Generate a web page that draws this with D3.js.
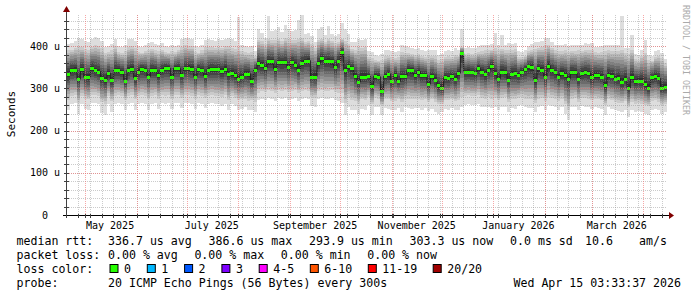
<!DOCTYPE html>
<html>
<head>
<meta charset="utf-8">
<script src="https://cdn.jsdelivr.net/npm/d3@7"></script>
<style>
html, body { margin: 0; padding: 0; background: #fff; }
svg { display: block; }
text { font-family: "DejaVu Sans Mono", monospace; fill: #000; white-space: pre; }
</style>
</head>
<body>
<svg id="chart" width="697" height="297"></svg>
<script>
// one column every 2 days, 360 days ending at the graph stamp
// values in microseconds
var rttMax = [
  405,408,412,420,418,412,410,416,421,420,412,398,400,405,418,400,398,402,416,418,413,400,398,402,408,410,406,404,408,400,398,402,400,404,416,420,419,418,400,398,404,415,416,414,412,
  417,415,418,420,416,412,470,402,400,398,400,388,440,432,420,472,436,438,446,434,451,440,436,438,462,474,428,432,425,411,440,445,427,447,430,425,428,455,440,430,411,410,418,415,417,
  388,386,380,378,382,392,390,388,386,388,403,400,398,395,394,396,392,388,390,392,390,380,382,388,390,388,395,392,440,395,398,395,396,400,402,403,403,405,431,403,427,403,407,405,408,
  388,386,390,400,405,411,410,412,419,420,411,404,403,402,405,400,403,402,404,403,407,406,408,399,398,400,403,404,402,403,403,472,396,395,427,382,380,392,415,380,378,388,390,385,370
];
var rttHigh = [
  390,392,396,400,398,394,392,398,402,400,395,384,386,390,400,386,384,388,398,400,396,386,385,388,392,394,390,388,392,386,385,388,386,390,398,402,400,400,386,385,390,398,398,397,396,
  398,396,400,400,396,394,398,388,386,384,386,376,415,412,405,418,414,415,418,412,420,416,414,415,418,420,410,412,406,396,415,418,410,418,412,408,410,418,412,406,394,392,398,396,398,
  374,372,368,366,368,376,376,374,372,374,386,385,384,382,380,382,378,375,376,378,376,368,370,375,376,375,380,378,398,382,385,382,383,386,388,390,390,392,396,390,394,390,392,391,393,
  375,374,378,388,392,394,396,398,402,404,396,390,389,388,390,386,389,388,390,389,392,391,392,386,385,386,389,390,388,389,389,392,383,382,390,370,368,378,385,368,366,375,377,372,360
];
var rttMedian = [
  335,344,344,322,346,327,326,348,343,340,325,320,336,320,343,343,339,318,344,347,325,340,346,344,328,344,343,332,344,349,348,328,348,348,332,348,349,347,328,346,344,330,344,346,345,
  345,342,347,333,336,331,323,328,335,335,318,344,360,356,348,364,364,346,362,362,362,350,362,356,344,360,366,366,328,328,360,372,366,366,364,350,366,386,344,352,348,330,315,328,328,
  329,305,329,328,294,329,334,317,332,317,329,329,344,343,332,340,332,332,310,329,321,307,302,326,324,329,323,336,383,340,340,340,336,348,340,334,344,354,336,323,340,339,321,335,336,
  332,340,346,352,350,320,348,344,328,354,343,339,328,337,332,323,339,338,323,336,338,336,326,332,331,328,307,332,330,323,324,315,323,301,326,317,318,318,310,302,326,329,324,302,303
];
var rttLow = [
  272,282,284,266,282,276,274,284,285,282,268,264,282,270,283,284,282,272,282,284,274,282,284,283,274,283,285,276,284,283,285,276,285,284,278,285,284,283,276,284,283,278,283,284,282,
  282,280,284,272,282,278,272,274,276,270,272,268,290,294,292,296,294,290,296,294,296,292,294,296,290,294,296,294,280,278,294,296,294,295,296,292,290,288,266,278,272,270,264,274,272,
  280,262,278,276,260,274,274,270,270,274,268,276,276,274,276,275,272,274,268,274,268,262,264,272,272,274,270,273,280,282,284,282,282,284,278,276,279,276,278,272,277,279,268,275,274,
  278,280,276,274,275,266,276,278,270,280,278,276,270,276,262,250,276,277,268,278,277,276,272,275,274,272,260,275,272,268,266,265,270,255,268,264,266,263,260,258,270,272,268,260,264
];
var rttMin = [
  250,262,265,240,262,252,250,265,266,262,242,238,262,245,264,265,262,248,262,265,250,262,265,264,250,264,266,252,265,264,266,252,266,265,254,266,265,264,252,265,264,254,264,265,262,
  262,258,264,250,262,258,250,252,255,248,250,245,272,276,272,278,276,270,278,276,278,272,276,278,270,276,278,276,258,256,276,278,275,276,277,272,270,266,238,256,250,248,240,252,250,
  261,238,257,255,236,253,252,250,248,253,245,255,253,252,254,253,250,253,246,252,245,240,243,252,250,253,248,250,256,261,262,260,261,262,256,255,257,254,256,250,255,257,245,253,252,
  258,261,256,253,254,245,256,258,250,260,258,256,250,256,240,225,256,257,248,258,257,256,252,255,254,252,238,255,252,248,246,245,250,232,248,244,246,243,240,238,250,252,248,240,245
];

var yTicks = [0, 100, 200, 300, 400];
var yTickLabels = ["0  ", "100 u", "200 u", "300 u", "400 u"];
var monthLabels = ["May 2025", "July 2025", "September 2025", "November 2025", "January 2026", "March 2026"];

var medianStats = ["336.7 us avg", "386.6 us max", "293.9 us min", "303.3 us now", "0.0 ms sd", "10.6", "am/s"];
var lossStats = ["0.00 % avg", "0.00 % max", "0.00 % min", "0.00 % now"];
var lossLabels = ["0", "1", "2", "3", "4-5", "6-10", "11-19", "20/20"];
var lossColors = ["#26ff00", "#00b8ff", "#0059ff", "#7e00ff", "#ff00ff", "#ff5500", "#ff0000", "#a00000"];
var probeText = "20 ICMP Echo Pings (56 Bytes) every 300s";
var stampText = "Wed Apr 15 03:33:37 2026";

var endTime = new Date(2026, 3, 15, 3, 33, 37);
var startTime = d3.timeHour.offset(endTime, -360 * 24);

var svg = d3.select("#chart");

var x = d3.scaleTime()
  .domain([startTime, endTime])
  .range([67, 667]);
var y = d3.scaleLinear()
  .domain([0, 474])
  .range([215, 15]);

var cols = rttMedian.map(function(m, i) {
  return {
    t0: d3.timeHour.offset(startTime, 48 * i),
    t1: d3.timeHour.offset(startTime, 48 * (i + 1)),
    min: rttMin[i], low: rttLow[i], med: m, high: rttHigh[i], max: rttMax[i]
  };
});

// smoke: 10 bands, outer one is min..max, inner ones close in on the median
var smoke = svg.append("g").attr("shape-rendering", "crispEdges");
for (var k = 1; k <= 10; k++) {
  var c = Math.floor(190 / 10 * (10 - k)) + 50;
  var frac = (k - 2) / 9;
  smoke.append("g")
    .attr("fill", d3.rgb(c, c, c).toString())
    .selectAll("rect")
    .data(cols)
    .join("rect")
    .attr("x", function(d) { return Math.round(x(d.t0)); })
    .attr("width", function(d) { return Math.round(x(d.t1)) - Math.round(x(d.t0)); })
    .each(function(d) {
      var top, bot;
      if (k == 1) {
        top = d.max; bot = d.min;
      } else {
        top = d3.interpolateNumber(d.high, d.med)(frac);
        bot = d3.interpolateNumber(d.low, d.med)(frac);
      }
      var yt = Math.round(y(top)), yb = Math.round(y(bot));
      d3.select(this).attr("y", yt).attr("height", Math.max(1, yb - yt));
    });
}

// median line
var stepPts = cols.map(function(d) { return [x(d.t0), y(d.med)]; });
stepPts.push([x(endTime), y(cols[cols.length - 1].med)]);
svg.append("path")
  .attr("d", d3.line().curve(d3.curveStepAfter)(stepPts))
  .attr("fill", "none")
  .attr("stroke", "#202020")
  .attr("stroke-width", 1);

svg.append("g")
  .attr("fill", lossColors[0])
  .attr("shape-rendering", "crispEdges")
  .selectAll("rect")
  .data(cols)
  .join("rect")
  .attr("x", function(d) { return Math.round(x(d.t0)); })
  .attr("width", function(d) { return Math.round(x(d.t1)) - Math.round(x(d.t0)); })
  .attr("y", function(d) { return Math.round(y(d.med)) - 1.5; })
  .attr("height", 3);

// grid
var grid = svg.append("g").attr("stroke-dasharray", "1,1").attr("stroke-width", 1);
var weeks = d3.timeSunday.range(startTime, endTime);
var months = d3.timeMonth.range(startTime, endTime);
grid.selectAll(".vmin").data(weeks).join("line")
  .attr("class", "vmin")
  .attr("x1", function(d) { return Math.round(x(d)) + 0.5; })
  .attr("x2", function(d) { return Math.round(x(d)) + 0.5; })
  .attr("y1", y(474)).attr("y2", y(0))
  .attr("stroke", "rgba(140,140,140,0.45)");
grid.selectAll(".hmin").data(d3.range(20, 474, 20)).join("line")
  .attr("class", "hmin")
  .attr("x1", 67).attr("x2", 667)
  .attr("y1", function(d) { return Math.round(y(d)) + 0.5; })
  .attr("y2", function(d) { return Math.round(y(d)) + 0.5; })
  .attr("stroke", "rgba(140,140,140,0.45)");
grid.selectAll(".vmaj").data(months).join("line")
  .attr("class", "vmaj")
  .attr("x1", function(d) { return Math.round(x(d)) + 0.5; })
  .attr("x2", function(d) { return Math.round(x(d)) + 0.5; })
  .attr("y1", y(474)).attr("y2", y(0))
  .attr("stroke", "rgba(240,110,110,0.6)");
grid.selectAll(".hmaj").data(yTicks.slice(1)).join("line")
  .attr("class", "hmaj")
  .attr("x1", 67).attr("x2", 667)
  .attr("y1", function(d) { return Math.round(y(d)) + 0.5; })
  .attr("y2", function(d) { return Math.round(y(d)) + 0.5; })
  .attr("stroke", "rgba(240,110,110,0.6)");

// axes
var axes = svg.append("g").attr("shape-rendering", "crispEdges");
axes.append("line")
  .attr("x1", 63).attr("x2", 669).attr("y1", 215.5).attr("y2", 215.5)
  .attr("stroke", "#000");
axes.append("line")
  .attr("x1", 66.5).attr("x2", 66.5).attr("y1", 218).attr("y2", 11)
  .attr("stroke", "#404040");
axes.selectAll(".xtick").data(weeks.concat(months)).join("line")
  .attr("class", "xtick")
  .attr("x1", function(d) { return Math.round(x(d)) + 0.5; })
  .attr("x2", function(d) { return Math.round(x(d)) + 0.5; })
  .attr("y1", 214).attr("y2", 218)
  .attr("stroke", "#404040");
axes.selectAll(".ytick").data(d3.range(20, 474, 20)).join("line")
  .attr("class", "ytick")
  .attr("x1", 64).attr("x2", 69)
  .attr("y1", function(d) { return Math.round(y(d)) + 0.5; })
  .attr("y2", function(d) { return Math.round(y(d)) + 0.5; })
  .attr("stroke", "#404040");

svg.append("path").attr("d", "M669,212 L674,215.5 L669,219 Z").attr("fill", "#800000");
svg.append("path").attr("d", "M63,12 L66.5,6 L70,12 Z").attr("fill", "#800000");

// tick labels
svg.selectAll(".ylab").data(yTicks).join("text")
  .attr("class", "ylab")
  .attr("x", 60)
  .attr("y", function(d) { return y(d) + 3.5; })
  .attr("text-anchor", "end")
  .style("font-size", "10px")
  .text(function(d, i) { return yTickLabels[i]; });

var parseMonth = d3.timeParse("%B %Y");
svg.selectAll(".xlab").data(monthLabels).join("text")
  .attr("class", "xlab")
  .attr("x", function(d) { return x(d3.timeDay.offset(parseMonth(d), 15)); })
  .attr("y", 228.5)
  .attr("text-anchor", "middle")
  .style("font-size", "10px")
  .text(function(d) { return d; });

svg.append("text")
  .attr("transform", "translate(15,114) rotate(-90)")
  .attr("text-anchor", "middle")
  .style("font-size", "11px")
  .text("Seconds");

svg.append("text")
  .attr("transform", "translate(683,5) rotate(90)")
  .style("font-size", "8.3px")
  .style("fill", "#aaaaaa")
  .text("RRDTOOL / TOBI OETIKER");

// legend
var legend = svg.append("g").style("font-size", "11.6px");
var statX = [108, 208.5, 309, 409.5, 510, 585, 639];
legend.append("text").attr("x", 16.5).attr("y", 245).text("median rtt:");
legend.selectAll(".mstat").data(medianStats).join("text")
  .attr("class", "mstat")
  .attr("x", function(d, i) { return statX[i]; })
  .attr("y", 245)
  .text(function(d) { return d; });

legend.append("text").attr("x", 16.5).attr("y", 259).text("packet loss:");
legend.selectAll(".lstat").data(lossStats).join("text")
  .attr("class", "lstat")
  .attr("x", function(d, i) { return 108 + i * 86.4; })
  .attr("y", 259)
  .text(function(d) { return d; });

legend.append("text").attr("x", 16.5).attr("y", 273).text("loss color:");
var boxX = [];
var bx = 109.5;
lossLabels.forEach(function(l) { boxX.push(bx); bx += 30.4 + 6.9 * l.length; });
var items = legend.selectAll(".loss").data(lossLabels).join("g")
  .attr("class", "loss")
  .attr("transform", function(d, i) { return "translate(" + boxX[i] + ",0)"; });
items.append("rect")
  .attr("x", 0.5).attr("y", 264.5).attr("width", 8).attr("height", 8)
  .attr("fill", function(d, i) { return lossColors[i]; })
  .attr("stroke", "#000");
items.append("text")
  .attr("x", 14.5).attr("y", 273)
  .text(function(d) { return d; });

legend.append("text").attr("x", 16.5).attr("y", 287).text("probe:");
legend.append("text").attr("x", 108).attr("y", 287).text(probeText);
legend.append("text").attr("x", 681).attr("y", 287).attr("text-anchor", "end").text(stampText);
</script>
</body>
</html>
